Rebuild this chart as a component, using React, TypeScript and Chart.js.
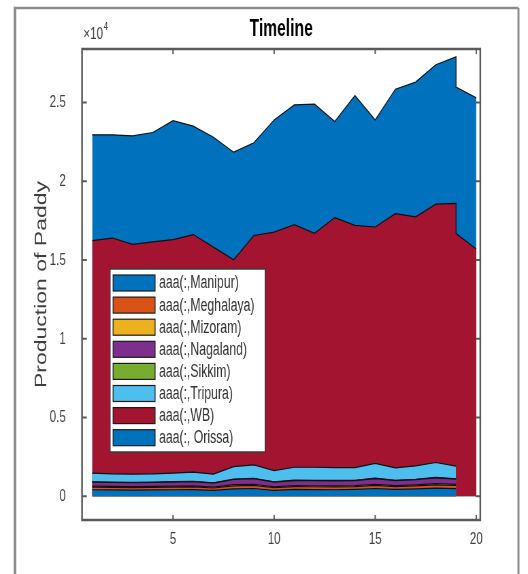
import { useEffect, useRef } from 'react';
import { Chart, registerables } from 'chart.js';

Chart.register(...registerables);

// ---------- data ----------
const xValues = [1, 2, 3, 4, 5, 6, 7, 8, 9, 10, 11, 12, 13, 14, 15, 16, 17, 18, 19, 20];

// small states have no value for the last year
const manipur = [420, 410, 400, 410, 420, 430, 380, 480, 500, 380, 440, 430, 420, 440, 500, 440, 470, 520, 490];
const meghalaya = [170, 160, 160, 160, 170, 170, 150, 190, 200, 170, 180, 180, 180, 180, 200, 180, 190, 210, 200];
const mizoram = [60, 60, 60, 60, 60, 60, 55, 70, 70, 60, 65, 65, 65, 65, 70, 65, 70, 75, 70];
const nagaland = [250, 250, 250, 250, 260, 270, 250, 330, 350, 290, 320, 320, 320, 310, 360, 310, 330, 370, 330];
const sikkim = [25, 25, 25, 25, 25, 25, 25, 25, 25, 25, 25, 25, 25, 25, 25, 25, 25, 25, 25];
const tripura = [545, 525, 515, 525, 535, 580, 550, 795, 855, 715, 820, 830, 820, 810, 945, 790, 850, 950, 805];
const wb = [14770, 14970, 14590, 14720, 14830, 15085, 14410, 13130, 14560, 15130, 15400, 14850, 15870, 15370, 15000, 16140, 15815, 16400, 16680, 15700];
const orissa = [6710, 6550, 6880, 6950, 7550, 6880, 6980, 6830, 5890, 7130, 7600, 8200, 6100, 8250, 6800, 7900, 8550, 8850, 9300, 9600];

const seriesLabels = [
  'aaa(:,Manipur)',
  'aaa(:,Meghalaya)',
  'aaa(:,Mizoram)',
  'aaa(:,Nagaland)',
  'aaa(:,Sikkim)',
  'aaa(:,Tripura)',
  'aaa(:,WB)',
  'aaa(:, Orissa)',
];
const seriesColors = ['#0072BD', '#D95319', '#EDB120', '#7E2F8E', '#77AC30', '#4DBEEE', '#A2142F', '#0072BD'];

const xTicks = [5, 10, 15, 20];
const yTicks = [0, 5000, 10000, 15000, 20000, 25000];

const chartTitle = 'Timeline';
const yAxisTitle = 'Production of Paddy';
const yExponent = '4';
const yScaleFactor = 10000;
const xMin = 0.5;
const xMax = 20.2;
const yMin = -1500;
const yMax = 28400;

// ---------- layout (the reference image is horizontally squeezed) ----------
const W = 528;
const H = 574;
const SQ = 0.68;
const IW = Math.round(W / SQ);
const PLOT_LEFT = 82 / SQ;
const PLOT_RIGHT = 480 / SQ;
const PLOT_BOTTOM = 520;
const FONT = "'Liberation Sans', Arial, Helvetica, sans-serif";
const TEXT = '#3f3f3f';

const series = [manipur, meghalaya, mizoram, nagaland, sikkim, tripura, wb, orissa];
const has = (j: number, i: number) => series[j][i] !== undefined && series[j][i] !== null;

function stackedPoints(k: number) {
  const pts: { x: number; y: number }[] = [];
  for (let i = 0; i < xValues.length; i++) {
    if (!has(k, i)) continue;
    let s = 0;
    for (let j = 0; j <= k; j++) if (has(j, i)) s += series[j][i];
    pts.push({ x: xValues[i], y: s });
    if (i + 1 < xValues.length && has(k, i + 1)) {
      let dropped = false;
      let s2 = 0;
      for (let j = 0; j <= k; j++) {
        if (has(j, i) && !has(j, i + 1)) dropped = true;
        else if (has(j, i)) s2 += series[j][i];
      }
      if (dropped) pts.push({ x: xValues[i], y: s2 });
    }
  }
  return pts;
}

const decor = {
  id: 'decor',
  beforeDraw(chart: any) {
    const ctx = chart.ctx;
    ctx.save();
    ctx.strokeStyle = '#8c8c8c';
    ctx.lineWidth = 4;
    ctx.beginPath();
    ctx.moveTo(22, H);
    ctx.lineTo(22, 8);
    ctx.stroke();
    ctx.lineWidth = 2.5;
    ctx.beginPath();
    ctx.moveTo(20, 8);
    ctx.lineTo(762, 8);
    ctx.stroke();
    ctx.lineWidth = 3;
    ctx.beginPath();
    ctx.moveTo(762, 8);
    ctx.lineTo(762, H);
    ctx.stroke();
    ctx.restore();
  },
  afterDraw(chart: any) {
    const ctx = chart.ctx;
    const ca = chart.chartArea;
    const xs = chart.scales.x;
    const ys = chart.scales.y;
    ctx.save();
    // axes box
    ctx.strokeStyle = '#5a5a5a';
    ctx.lineWidth = 2.5;
    ctx.strokeRect(ca.left, ca.top, ca.right - ca.left, ca.bottom - ca.top);
    // inward ticks
    ctx.lineWidth = 2;
    ctx.beginPath();
    xs.ticks.forEach((t: any) => {
      const px = xs.getPixelForValue(t.value);
      ctx.moveTo(px, ca.bottom);
      ctx.lineTo(px, ca.bottom - 5);
      ctx.moveTo(px, ca.top);
      ctx.lineTo(px, ca.top + 5);
    });
    ys.ticks.forEach((t: any) => {
      const py = ys.getPixelForValue(t.value);
      ctx.moveTo(ca.left, py);
      ctx.lineTo(ca.left + 7, py);
      ctx.moveTo(ca.right, py);
      ctx.lineTo(ca.right - 7, py);
    });
    ctx.stroke();

    // exponent label
    ctx.fillStyle = TEXT;
    ctx.textBaseline = 'middle';
    ctx.textAlign = 'left';
    ctx.font = `17px ${FONT}`;
    const ex = ca.left + 2;
    const ey = ca.top - 15;
    ctx.fillText('\u00d710', ex, ey);
    const w10 = ctx.measureText('\u00d710').width;
    ctx.font = `11px ${FONT}`;
    ctx.fillText(yExponent, ex + w10 + 1, ey - 7);

    // legend
    const lx = ca.left + 28 / SQ;
    const ly = ca.top + 220;
    const lw = 155 / SQ;
    const lh = 183;
    ctx.fillStyle = '#ffffff';
    ctx.fillRect(lx, ly, lw, lh);
    ctx.strokeStyle = '#3c3c3c';
    ctx.lineWidth = 1.5;
    ctx.strokeRect(lx, ly, lw, lh);
    const rowH = 22.1;
    ctx.font = `18px ${FONT}`;
    chart.data.datasets.forEach((ds: any, i: number) => {
      const sy = ly + 6 + i * rowH;
      const sx = lx + 3 / SQ;
      ctx.fillStyle = ds.backgroundColor;
      ctx.fillRect(sx, sy, 42 / SQ, 16);
      ctx.strokeStyle = '#1a1a1a';
      ctx.lineWidth = 1.2;
      ctx.strokeRect(sx, sy, 42 / SQ, 16);
      ctx.fillStyle = '#333333';
      ctx.textBaseline = 'middle';
      ctx.fillText(ds.label, lx + 49 / SQ, sy + 8.5);
    });
    ctx.restore();
  },
};

export default function App() {
  const ref = useRef<HTMLCanvasElement>(null);
  useEffect(() => {
    const canvas = ref.current;
    if (!canvas) return;
    const datasets = series.map((_, k) => ({
      label: seriesLabels[k],
      data: stackedPoints(k),
      backgroundColor: seriesColors[k],
      borderColor: '#111111',
      borderWidth: 1.2,
      fill: 'origin',
      pointRadius: 0,
      tension: 0,
    }));
    const chart = new Chart(canvas, {
      type: 'line',
      data: { datasets } as any,
      options: {
        responsive: false,
        animation: false,
        devicePixelRatio: 1,
        layout: { padding: { left: 0, right: IW - PLOT_RIGHT, top: 0, bottom: 0 } },
        plugins: {
          legend: { display: false },
          tooltip: { enabled: false },
          title: {
            display: true,
            text: chartTitle,
            fullSize: false,
            color: '#000000',
            font: { family: FONT, size: 23, weight: 'bold' },
            padding: { top: 16.2, bottom: 5.2 },
          },
        },
        scales: {
          x: {
            type: 'linear',
            min: xMin,
            max: xMax,
            grid: { display: false },
            border: { display: false },
            afterBuildTicks: (s: any) => {
              s.ticks = xTicks.map((v) => ({ value: v }));
            },
            ticks: {
              autoSkip: false,
              padding: 1,
              color: TEXT,
              maxRotation: 0,
              font: { family: FONT, size: 17 },
            },
            afterFit: (s: any) => {
              s.height = H - PLOT_BOTTOM;
            },
          },
          y: {
            type: 'linear',
            min: yMin,
            max: yMax,
            grid: { display: false },
            border: { display: false },
            afterBuildTicks: (s: any) => {
              s.ticks = yTicks.map((v) => ({ value: v }));
            },
            ticks: {
              autoSkip: false,
              padding: 16,
              color: TEXT,
              font: { family: FONT, size: 17 },
              callback: (v: any) => String(Number(v) / yScaleFactor),
            },
            title: {
              display: true,
              text: yAxisTitle,
              color: TEXT,
              font: { family: FONT, size: 23 },
              padding: { top: 48, bottom: 0 },
            },
            afterFit: (s: any) => {
              s.width = PLOT_LEFT;
            },
          },
        },
      } as any,
      plugins: [decor],
    });
    return () => chart.destroy();
  }, []);
  return (
    <div style={{ position: 'absolute', left: 0, top: 0, width: W, height: H, overflow: 'hidden', background: '#fff' }}>
      <canvas ref={ref} width={IW} height={H} style={{ width: `${W}px`, height: `${H}px`, display: 'block' }} />
    </div>
  );
}
